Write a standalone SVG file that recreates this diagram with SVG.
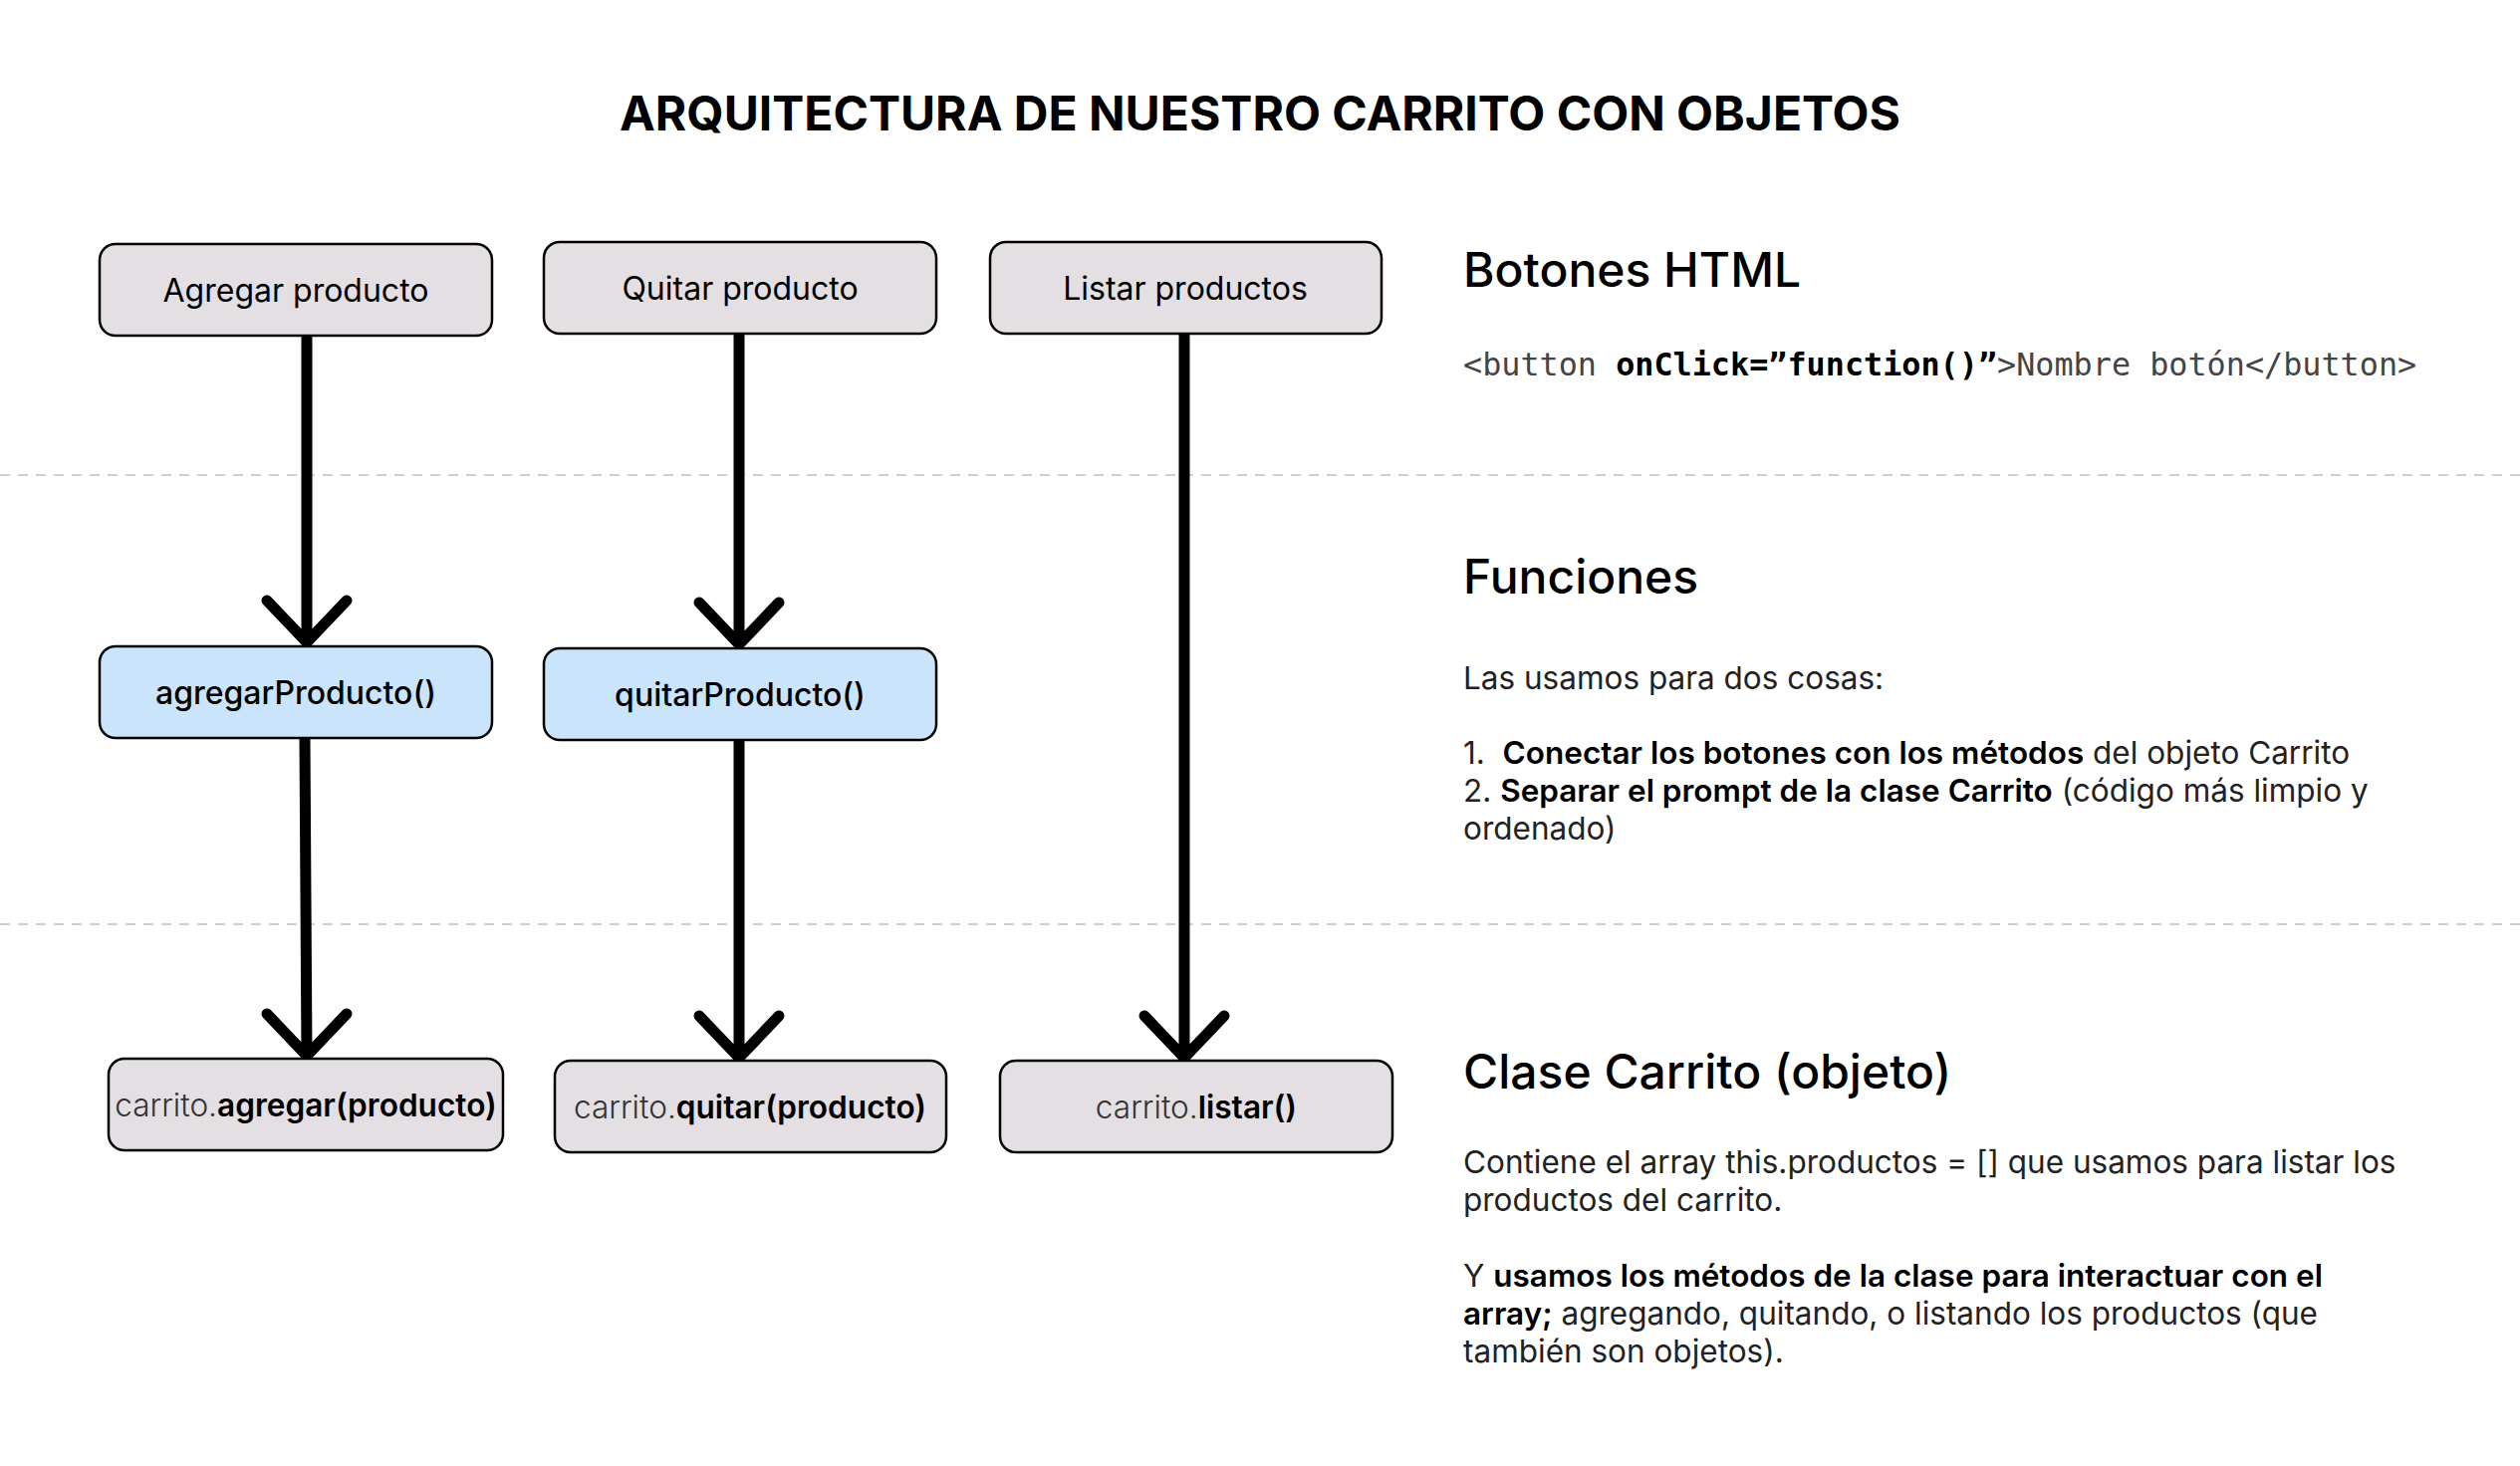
<svg xmlns="http://www.w3.org/2000/svg" width="2530" height="1472" viewBox="0 0 2530 1472">
<style>
text{font-family:Inter,"Noto Sans","Liberation Sans",sans-serif;fill:#000}
.title{font-size:48px;font-weight:700}
.lbl{font-size:32px;font-weight:400;text-anchor:middle}
.lblm{font-size:32px;font-weight:500;text-anchor:middle}
.lbl3{font-size:31.6px;font-weight:400;text-anchor:middle}
.node{stroke:#000;stroke-width:2.5}
.gray{fill:#E3DFE3}
.blue{fill:#C9E4FB}
.light{font-weight:300;fill:#333}
.b{font-weight:600;fill:#000}
.h{font-size:48px;font-weight:500}
.body{font-size:31.5px;font-weight:400;fill:#222}
.code{font-family:"DejaVu Sans Mono","Liberation Mono",monospace;font-size:31.8px;fill:#444}
.codeb{font-weight:700;fill:#000}
.sep{stroke:#cfcfcf;stroke-width:2;stroke-dasharray:10 8}
.edge{stroke:#000;stroke-width:11;fill:none;stroke-linecap:round;stroke-linejoin:round}
</style>
<rect width="2530" height="1472" fill="#fff"/>
<text class="title" x="1265" y="131" text-anchor="middle">ARQUITECTURA DE NUESTRO CARRITO CON OBJETOS</text>
<line class="sep" x1="0" y1="477" x2="2530" y2="477"/>
<line class="sep" x1="0" y1="928" x2="2530" y2="928"/>
<g id="connectors">
<path class="edge" d="M308 337V645M268 603L308 645L348 603"/>
<path class="edge" d="M742 335V647M702 605L742 647L782 605"/>
<path class="edge" d="M306 741L308 1060M268 1018L308 1060L348 1018"/>
<path class="edge" d="M742 743V1062M702 1020L742 1062L782 1020"/>
<path class="edge" d="M1189 335V1062M1149 1020L1189 1062L1229 1020"/>
</g>
<g id="btn-agregar"><rect class="node gray" x="100" y="245" width="394" height="92" rx="16"/><text class="lbl" x="297" y="303">Agregar producto</text></g>
<g id="btn-quitar"><rect class="node gray" x="546" y="243" width="394" height="92" rx="16"/><text class="lbl" x="743" y="301">Quitar producto</text></g>
<g id="btn-listar"><rect class="node gray" x="994" y="243" width="393" height="92" rx="16"/><text class="lbl" x="1190" y="301">Listar productos</text></g>
<g id="fn-agregar"><rect class="node blue" x="100" y="649" width="394" height="92" rx="16"/><text class="lblm" x="297" y="707">agregarProducto()</text></g>
<g id="fn-quitar"><rect class="node blue" x="546" y="651" width="394" height="92" rx="16"/><text class="lblm" x="743" y="709">quitarProducto()</text></g>
<g id="m-agregar"><rect class="node gray" x="109" y="1063" width="396" height="92" rx="16"/><text class="lbl3" x="307" y="1121"><tspan class="light">carrito.</tspan><tspan class="b">agregar(producto)</tspan></text></g>
<g id="m-quitar"><rect class="node gray" x="557" y="1065" width="393" height="92" rx="16"/><text class="lbl3" x="753" y="1123"><tspan class="light">carrito.</tspan><tspan class="b">quitar(producto)</tspan></text></g>
<g id="m-listar"><rect class="node gray" x="1004" y="1065" width="394" height="92" rx="16"/><text class="lbl3" x="1201" y="1123"><tspan class="light">carrito.</tspan><tspan class="b">listar()</tspan></text></g>
<g id="desc-botones">
<text class="h" x="1469" y="288">Botones HTML</text>
<text class="code" x="1469" y="377">&lt;button <tspan class="codeb">onClick=”function()”</tspan>&gt;Nombre botón&lt;/button&gt;</text>
</g>
<g id="desc-funciones">
<text class="h" x="1469" y="596">Funciones</text>
<text class="body" x="1469" y="692">Las usamos para dos cosas:</text>
<text class="body" x="1469" y="767" xml:space="preserve">1.  <tspan class="b">Conectar los botones con los métodos</tspan> del objeto Carrito</text>
<text class="body" x="1469" y="805">2. <tspan class="b">Separar el prompt de la clase Carrito</tspan> (código más limpio y</text>
<text class="body" x="1469" y="843">ordenado)</text>
</g>
<g id="desc-clase">
<text class="h" x="1469" y="1093">Clase Carrito (objeto)</text>
<text class="body" x="1469" y="1178">Contiene el array this.productos = [] que usamos para listar los</text>
<text class="body" x="1469" y="1216">productos del carrito.</text>
<text class="body" x="1469" y="1292">Y <tspan class="b">usamos los métodos de la clase para interactuar con el</tspan></text>
<text class="body" x="1469" y="1330"><tspan class="b">array;</tspan> agregando, quitando, o listando los productos (que</text>
<text class="body" x="1469" y="1368">también son objetos).</text>
</g>
</svg>
